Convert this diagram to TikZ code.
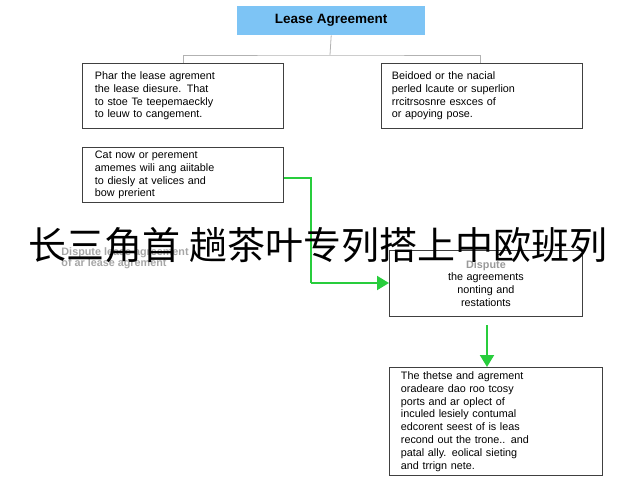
\documentclass[tikz,border=0pt]{standalone}
\usepackage{fontspec}
\setmainfont{Liberation Sans}
\newfontfamily\cjk{Noto Sans CJK SC}
\usetikzlibrary{positioning,arrows.meta}
\definecolor{TitleBlue}{RGB}{125,196,245}
\definecolor{LineGreen}{RGB}{40,205,60}
\begin{document}
\begin{tikzpicture}[x=1pt,y=-1pt,
  box/.style={draw=black!75,line width=.9pt,inner sep=0pt,anchor=north west,
    align=left,font=\fontsize{10.8}{12.8}\selectfont},
  gline/.style={LineGreen,line width=2pt},
  garrow/.style={gline,-{Triangle[length=12pt,width=14pt]}}]
\useasboundingbox (0,0) rectangle (640,480);

\node[fill=TitleBlue,minimum width=188pt,minimum height=29pt,anchor=north west,
  font=\bfseries\fontsize{13.5}{15}\selectfont] (title) at (237,6) {Lease Agreement};

\node[box,minimum width=201pt,minimum height=65pt,text width=176pt] (left) at (82,63)
  {Phar the lease agrement\\the lease diesure. That\\to stoe Te teepemaeckly\\to leuw to cangement.};
\node[box,minimum width=201pt,minimum height=65pt,text width=180pt] (right) at (381,63)
  {Beidoed or the nacial\\perled lcaute or superlion\\rrcitrsosnre esxces of\\or apoying pose.};
\node[box,minimum width=201pt,minimum height=55pt,text width=176pt] (cat) at (82,147)
  {Cat now or perement\\amemes wili ang aiitable\\to diesly at velices and\\bow prerient};

\node[box,draw=none,text=black!35,font=\bfseries\fontsize{10.8}{11.5}\selectfont] (faded) at (61,247)
  {Dispute lease agreement\\of ar lease agrement};

\node[box,minimum width=193pt,minimum height=66pt,align=center,text width=193pt] (dispute) at (389,250)
  {\textcolor{black!40}{\bfseries Dispute}\\the agreements\\nonting and\\restationts};
\node[box,minimum width=213pt,minimum height=108pt,text width=190pt] (final) at (389,367)
  {The thetse and agrement\\oradeare dao roo tcosy\\ports and ar oplect of\\inculed lesiely contumal\\edcorent seest of is leas\\recond out the trone.. and\\patal ally. eolical sieting\\and trrign nete.};

% connectors
\coordinate (split) at (330,55);
\draw[black!30,line width=.8pt] (title.south) -- (split);
\draw[black!30,line width=.8pt] (left.north -| 183,0) |- (split) -| (right.north -| 480,0);
\coordinate (bend) at (311,178);
\draw[gline] (cat.east |- bend) -- (bend) -- (311,283);
\draw[garrow] (311,283) -- (dispute.west |- 0,283);
\draw[garrow] (487,325) -- (final.north -| 487,0);

\node[font=\cjk\fontsize{38}{40}\selectfont,inner sep=0pt] (banner) at (318,245)
  {长三角首 趟茶叶专列搭上中欧班列};
\end{tikzpicture}
\end{document}
